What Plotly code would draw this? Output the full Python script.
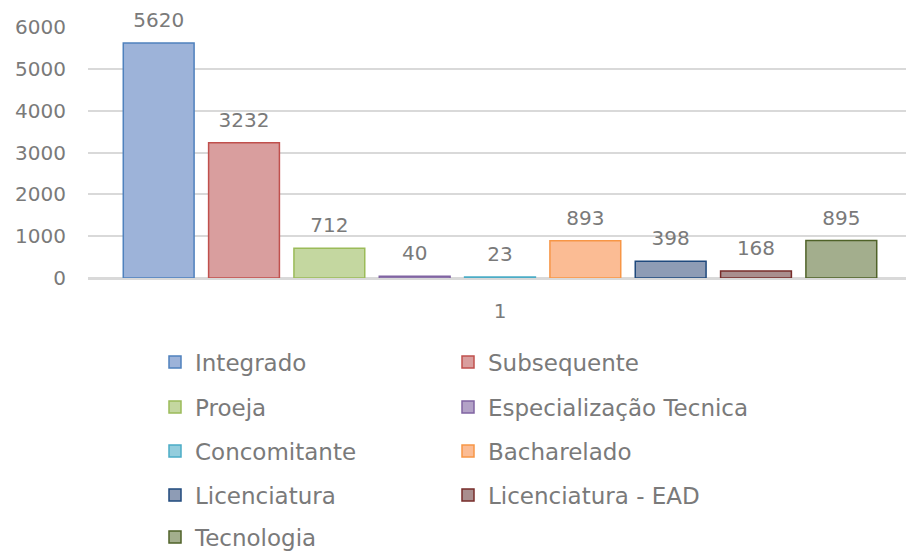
import plotly.graph_objects as go

categories = ["1"]
series_names = ["Integrado", "Subsequente", "Proeja", "Especialização Tecnica",
                "Concomitante", "Bacharelado", "Licenciatura", "Licenciatura - EAD", "Tecnologia"]
series_values = [5620, 3232, 712, 40, 23, 893, 398, 168, 895]
fill_colors = ["#9DB3D9", "#D99E9E", "#C4D7A0", "#B3A2C7", "#93CDDD", "#FBBC94",
               "#8E9CB5", "#A98E8E", "#A3AE8D"]
line_colors = ["#4F81BD", "#C0504D", "#9BBB59", "#8064A2", "#4BACC6", "#F79646",
               "#1F497D", "#772C2A", "#4F6228"]
y_ticks = [0, 1000, 2000, 3000, 4000, 5000, 6000]

FONT = "DejaVu Sans"
GRAY = "#7a7a7a"
W, H = 906, 553  # page body adds an 8px offset

legend_ids = ["legend" if i == 0 else f"legend{i+1}" for i in range(len(series_names))]

fig = go.Figure()
for i, name in enumerate(series_names):
    fig.add_trace(go.Bar(
        x=categories, y=[series_values[i]], name=name,
        marker=dict(color=fill_colors[i], line=dict(color=line_colors[i], width=1.5)),
        offsetgroup=str(i), legend=legend_ids[i],
    ))
# data labels, grouped like the bars
for i, name in enumerate(series_names):
    fig.add_trace(go.Scatter(
        x=categories, y=[series_values[i]], mode="markers+text",
        text=[str(series_values[i])], textposition="top center",
        textfont=dict(family=FONT, size=20, color=GRAY),
        marker=dict(size=16, color="rgba(0,0,0,0)"),
        offsetgroup=str(i), showlegend=False, cliponaxis=False, hoverinfo="skip",
    ))

row_centers = [354, 399, 443, 487, 529]
col_x = [147, 440]
leg_common = dict(orientation="h", xref="container", yref="container",
                  xanchor="left", yanchor="middle",
                  font=dict(family=FONT, size=23, color=GRAY),
                  bgcolor="rgba(0,0,0,0)", itemclick=False)
legends = {}
for i, key in enumerate(legend_ids):
    legends[key] = dict(leg_common, x=col_x[i % 2] / W, y=1 - row_centers[i // 2] / H)

fig.update_layout(
    width=W, height=H,
    margin=dict(l=80, r=2, t=19, b=H - 270, autoexpand=False),
    paper_bgcolor="white", plot_bgcolor="white",
    barmode="group", bargap=0.068, bargroupgap=0.17,
    scattermode="group", scattergap=0.068,
    font=dict(family=FONT, size=20, color=GRAY),
    showlegend=True,
    **legends,
)
fig.update_yaxes(range=[0, 6000], tickvals=y_ticks, showgrid=True,
                 gridcolor="#d9d9d9", gridwidth=1.5, zeroline=True,
                 zerolinecolor="#d9d9d9", zerolinewidth=1.5, showline=False,
                 ticks="", ticklabelstandoff=21,
                 tickfont=dict(family=FONT, size=20, color=GRAY))
fig.update_xaxes(type="category", showgrid=False, showline=True, linecolor="#d9d9d9",
                 linewidth=1.5, ticks="", ticklabelstandoff=14,
                 tickfont=dict(family=FONT, size=20, color=GRAY))

fig.write_html("out.html")
